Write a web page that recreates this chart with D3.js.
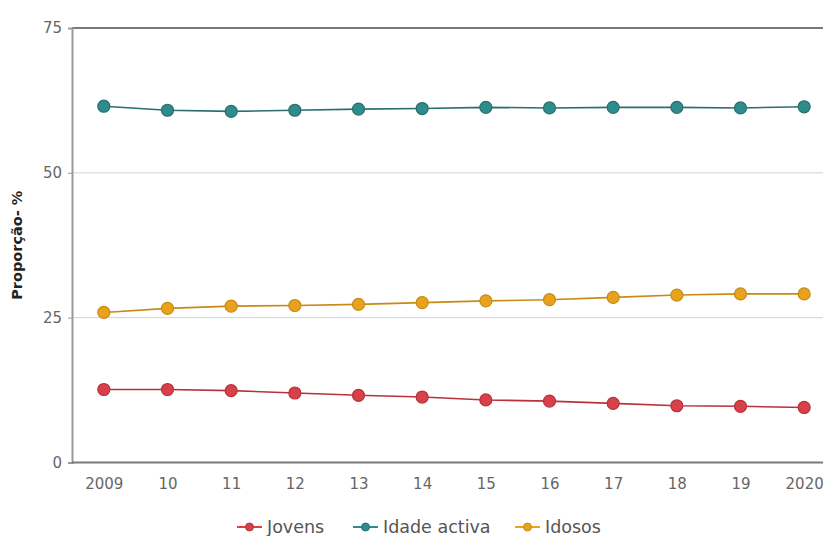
<!DOCTYPE html>
<html><head><meta charset="utf-8">
<script src="https://cdn.jsdelivr.net/npm/d3@7"></script>
<style>body{margin:0;background:#fff}svg{display:block}</style>
</head><body>
<svg id="c" width="823" height="536"></svg>
<script>
const years = ["2009","10","11","12","13","14","15","16","17","18","19","2020"];
const jovens = [12.6,12.6,12.4,12.0,11.6,11.3,10.8,10.6,10.2,9.8,9.7,9.5];
const idadeActiva = [61.5,60.8,60.6,60.8,61.0,61.1,61.3,61.2,61.3,61.3,61.2,61.4];
const idosos = [25.9,26.6,27.0,27.1,27.3,27.6,27.9,28.1,28.5,28.9,29.1,29.1];
const yTicks = [0,25,50,75];
const seriesNames = ["Jovens","Idade activa","Idosos"];
const colors = ["#d8404a","#2f8c8c","#e8a21d"];
const strokes = ["#b8323a","#2a6e70","#c98a14"];
const seriesVals = [jovens, idadeActiva, idosos];

const svg = d3.select("#c");
const L = 72, T = 28, B = 462.5, R = 836;
const x = d3.scalePoint().domain(years).range([L, R]).padding(0.5);
const y = d3.scaleLinear().domain([0,75]).range([B, T]);

// gridlines
svg.append("g").selectAll("line").data([25,50]).join("line")
  .attr("x1", L).attr("x2", 823).attr("y1", d=>y(d)).attr("y2", d=>y(d))
  .attr("stroke","#c9d5de").attr("stroke-width",1);
// top border
svg.append("line").attr("x1",L).attr("x2",823).attr("y1",T).attr("y2",T)
  .attr("stroke","#7a7a7a").attr("stroke-width",2);

// y axis
const yAx = svg.append("g").attr("transform",`translate(${L},0)`)
  .call(d3.axisLeft(y).tickValues(yTicks).tickSize(4).tickPadding(6));
yAx.select(".domain").attr("stroke","#999").attr("stroke-width",2);
yAx.selectAll(".tick line").attr("stroke","#999");
yAx.selectAll("text").attr("fill","#666").style("font-family","DejaVu Sans").style("font-size","15px");

// x axis
const xAx = svg.append("g").attr("transform",`translate(0,${B})`)
  .call(d3.axisBottom(x).tickSize(0).tickPadding(16));
xAx.select(".domain").attr("d",`M${L},0H823`).attr("stroke","#7a7a7a").attr("stroke-width",2);
xAx.selectAll("text").attr("fill","#666").style("font-family","DejaVu Sans").style("font-size","15px");

// y label
svg.append("text").attr("transform",`translate(22,${(T+B)/2}) rotate(-90)`)
  .attr("text-anchor","middle").style("font-family","DejaVu Sans").style("font-size","14.5px")
  .style("font-weight","bold").attr("fill","#222").text("Proporção- %");

// series
const line = d3.line().x((d,i)=>x(years[i])).y(d=>y(d));
seriesVals.forEach((vals,k)=>{
  const g = svg.append("g");
  g.append("path").attr("d", line(vals)).attr("fill","none")
    .attr("stroke", strokes[k]).attr("stroke-width",1.6);
  g.selectAll("circle").data(vals).join("circle")
    .attr("cx",(d,i)=>x(years[i])).attr("cy",d=>y(d)).attr("r",6)
    .attr("fill",colors[k]).attr("stroke",strokes[k]).attr("stroke-width",1.2);
});

// legend
const legX = [237, 353, 515];
const lg = svg.append("g");
seriesNames.forEach((n,k)=>{
  const g = lg.append("g").attr("transform",`translate(${legX[k]},527)`);
  g.append("line").attr("x1",0).attr("x2",25).attr("stroke",colors[k]).attr("stroke-width",2);
  g.append("circle").attr("cx",12.5).attr("r",4).attr("fill",colors[k]).attr("stroke",strokes[k]);
  g.append("text").attr("x",30).attr("dy","0.35em").attr("fill","#555")
    .style("font-family","DejaVu Sans").style("font-size","17.5px").text(n);
});
</script>
</body></html>
